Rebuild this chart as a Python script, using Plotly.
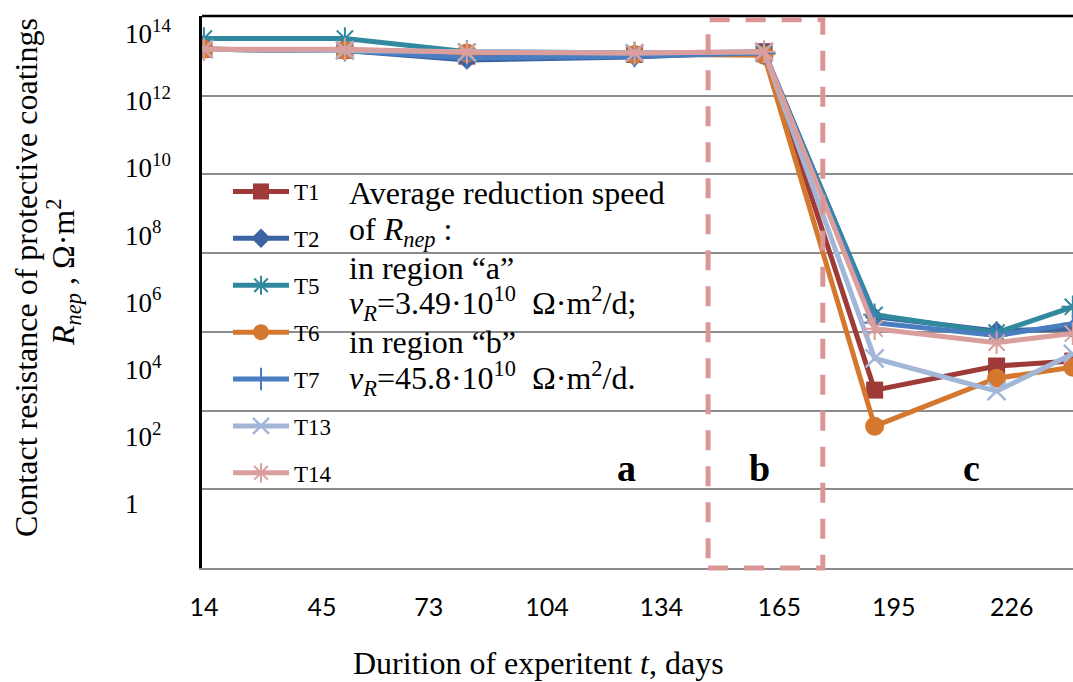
import plotly.graph_objects as go

# ---- data ----
days = [14, 51, 83, 127, 161, 190, 222, 242]
tick_days = [14, 45, 73, 104, 134, 165, 195, 226]
tick_day_labels = ["14", "45", "73", "104", "134", "165", "195", "226"]

series_names = ["T1", "T2", "T5", "T6", "T7", "T13", "T14"]
T1 = [1.5e13, 1.4e13, 1.0e13, 1.1e13, 1.3e13, 3.3e4, 1.35e5, 1.8e5]
T2 = [1.5e13, 1.4e13, 8.0e12, 9.5e12, 1.3e13, 2.4e6, 1.05e6, 1.2e6]
T5 = [2.8e13, 2.8e13, 1.3e13, 1.2e13, 1.15e13, 2.7e6, 9.5e5, 4.3e6]
T6 = [1.5e13, 1.4e13, 1.2e13, 1.1e13, 1.05e13, 4.0e3, 6.6e4, 1.26e5]
T7 = [1.5e13, 1.4e13, 9.0e12, 1.0e13, 1.2e13, 1.7e6, 8.0e5, 1.6e6]
T13 = [1.5e13, 1.4e13, 1.25e13, 1.2e13, 1.3e13, 2.1e5, 3.1e4, 2.75e5]
T14 = [1.5e13, 1.5e13, 1.25e13, 1.2e13, 1.3e13, 1.2e6, 5.3e5, 9.0e5]

y_exponents = [0, 2, 4, 6, 8, 10, 12, 14]
y_labels = ["1"] + ["10<sup>%d</sup>" % e for e in y_exponents[1:]]

region_a_b = [146.3, 176.4]
region_labels = [("a", 124.8), ("b", 159.9), ("c", 215.5)]

# ---- styles ----
styles = {
    "T1": dict(color="#9E3B38", symbol="square", size=17, lw=0),
    "T2": dict(color="#3B64A0", symbol="diamond", size=15, lw=0),
    "T5": dict(color="#31899E", symbol="asterisk-open", size=19, lw=2),
    "T6": dict(color="#D4782F", symbol="circle", size=19, lw=0),
    "T7": dict(color="#4A7EC0", symbol="cross-thin-open", size=16, lw=2),
    "T13": dict(color="#A2B6D8", symbol="x-thin-open", size=18, lw=2.5),
    "T14": dict(color="#DA9E9C", symbol="asterisk-open", size=19, lw=2),
}
values = dict(T1=T1, T2=T2, T5=T5, T6=T6, T7=T7, T13=T13, T14=T14)

SERIF = "Liberation Serif"
W, H = 1073, 682
ML, MT, MB = 202, 16, 114

fig = go.Figure()
for name in series_names:
    s = styles[name]
    fig.add_trace(go.Scatter(
        x=days, y=values[name], name=name, mode="lines+markers",
        legendgroup=name,
        line=dict(color=s["color"], width=5),
        marker=dict(symbol=s["symbol"], size=s["size"], color=s["color"],
                    line=dict(color=s["color"], width=s["lw"])),
    ))

# dummy trace to show the label axis
fig.add_trace(go.Scatter(x=[], y=[], yaxis="y2", showlegend=False, hoverinfo="skip"))

fig.update_layout(
    width=W, height=H,
    margin=dict(l=0, r=0, t=MT, b=MB, autoexpand=False),
    paper_bgcolor="white", plot_bgcolor="white",
    showlegend=True,
    legend=dict(
        x=228 / W, y=(H - MB - 170) / (H - MT - MB), xanchor="left", yanchor="top",
        bgcolor="rgba(0,0,0,0)", font=dict(family=SERIF, size=23, color="black"),
        traceorder="grouped", tracegroupgap=14, itemwidth=56,
    ),
    xaxis=dict(
        domain=[ML / W, 1], range=[13.5, 242.05], automargin=False,
        tickmode="array", tickvals=tick_days, ticktext=tick_day_labels,
        showgrid=False, zeroline=False,
        showline=True, linecolor="#8c8c8c", linewidth=2,
        ticks="outside", ticklen=16, tickcolor="rgba(0,0,0,0)",
        tickfont=dict(family="Lato", size=25, color="black"),
    ),
    yaxis=dict(
        type="log", range=[0, 14.02], dtick=2, tick0=0, automargin=False,
        showgrid=True, gridcolor="#8c8c8c", gridwidth=2,
        showticklabels=False, showline=True, linecolor="black", linewidth=2.5,
        zeroline=False,
    ),
    yaxis2=dict(
        overlaying="y", side="right", anchor="free", position=124 / W, automargin=False,
        range=[-1.906, 14.52], tickmode="array", tickvals=y_exponents, ticktext=y_labels,
        showgrid=False, zeroline=False, showline=False, ticks="",
        tickfont=dict(family=SERIF, size=27, color="black"),
    ),
)

# top border
fig.add_shape(type="line", xref="x domain", yref="y domain", x0=0, x1=1, y0=1, y1=1,
              line=dict(color="black", width=2.5))
# dashed region b
fig.add_shape(type="rect", xref="x", yref="y domain", x0=region_a_b[0], x1=region_a_b[1],
              y0=0, y1=0.993, line=dict(color="#DA9694", width=5, dash="20px,16px"),
              fillcolor="rgba(0,0,0,0)")

for lab, xv in region_labels:
    fig.add_annotation(text="<b>%s</b>" % lab, x=xv, xref="x", y=(568 - 468) / 552,
                       yref="y domain", xanchor="center", yanchor="middle", showarrow=False,
                       font=dict(family=SERIF, size=38, color="black"))

def py(p):
    return (H - MB - p) / (H - MT - MB)

text_lines = [
    ("Average reduction speed", 193),
    ("of <i>R</i><sub><i>nep</i></sub> :", 232),
    ("in region “a”", 268),
    ("<i>v</i><sub><i>R</i></sub>=3.49·10<sup>10</sup>  Ω·m<sup>2</sup>/d;", 303),
    ("in region “b”", 342),
    ("<i>v</i><sub><i>R</i></sub>=45.8·10<sup>10</sup>  Ω·m<sup>2</sup>/d.", 378),
]
for t, p in text_lines:
    fig.add_annotation(text=t, xref="paper", yref="paper", x=347 / W, y=py(p),
                       xanchor="left", yanchor="middle", showarrow=False, align="left",
                       font=dict(family=SERIF, size=32, color="black"))

# axis titles
fig.add_annotation(text="Contact resistance of protective coatings", xref="paper", yref="paper",
                   x=26 / W, y=py(278), textangle=-90, showarrow=False,
                   xanchor="center", yanchor="middle",
                   font=dict(family=SERIF, size=32, color="black"))
fig.add_annotation(text="<i>R</i><sub><i>nep</i></sub> , Ω·m<sup>2</sup>", xref="paper", yref="paper",
                   x=63 / W, y=py(272), textangle=-90, showarrow=False,
                   xanchor="center", yanchor="middle",
                   font=dict(family=SERIF, size=32, color="black"))
fig.add_annotation(text="Durition of experitent <i>t</i>, days", xref="paper", yref="paper",
                   x=538 / W, y=py(663), showarrow=False, xanchor="center", yanchor="middle",
                   font=dict(family=SERIF, size=32, color="black"))

fig.write_html("out.html")
